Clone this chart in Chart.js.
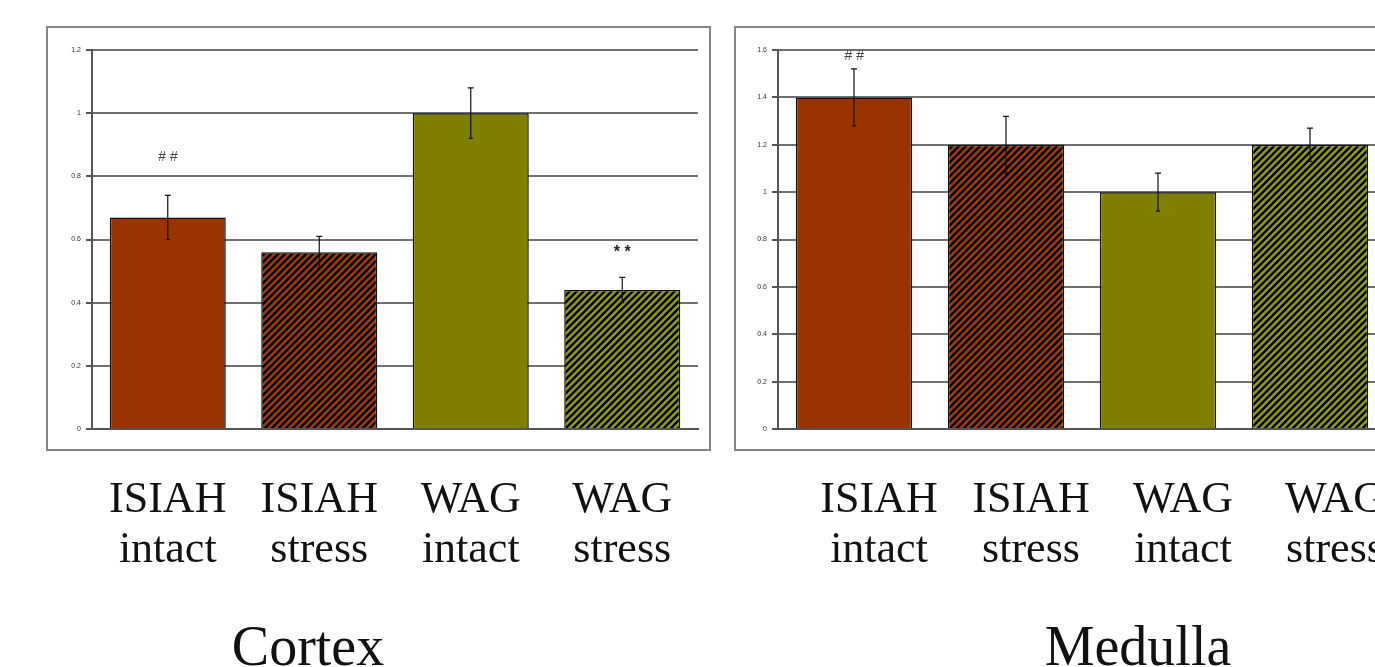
<!DOCTYPE html>
<html><head><meta charset="utf-8">
<script src="https://cdn.jsdelivr.net/npm/chart.js@4.4.1/dist/chart.umd.min.js"></script>
<style>
html,body{margin:0;padding:0;background:#fff;width:1375px;height:667px;overflow:hidden;position:relative;}
.wrap{position:absolute;top:0;height:600px;}
.ttl{position:absolute;top:618px;width:400px;text-align:center;font-family:'Liberation Serif','Times New Roman',serif;font-size:56px;line-height:56px;color:#111;}
</style></head><body>
<div class="wrap" style="left:0;width:720px"><canvas id="c1" width="720" height="600"></canvas></div>
<div class="wrap" style="left:720px;width:720px"><canvas id="c2" width="720" height="600"></canvas></div>
<div class="ttl" style="left:108px">Cortex</div>
<div class="ttl" style="left:938px">Medulla</div>
<script>
// ---- data ----
const categories = [['ISIAH','intact'],['ISIAH','stress'],['WAG','intact'],['WAG','stress']];
const cortexValues = [0.67, 0.56, 1.00, 0.44];
const cortexErrors = [0.07, 0.05, 0.08, 0.04];
const cortexSig = ['##', '', '', '**'];
const cortexSigAt = [0.86, null, null, 0.56];
const medullaValues = [1.40, 1.20, 1.00, 1.20];
const medullaErrors = [0.12, 0.12, 0.08, 0.07];
const medullaSig = ['##', '', '', ''];
const medullaSigAt = [1.575, null, null, null];
const cortexMax = 1.2;
const medullaMax = 1.6;
const tickStep = 0.2;

// ---- styling ----
const RED = '#993300', OLIVE = '#808000';
function hatch(color){
  const s=7;
  const c=document.createElement('canvas'); c.width=s; c.height=s;
  const x=c.getContext('2d'); x.fillStyle=color; x.fillRect(0,0,s,s);
  x.strokeStyle='#000'; x.lineWidth=2.4; x.beginPath();
  x.moveTo(-1,s+1); x.lineTo(s+1,-1);
  x.moveTo(-1,1); x.lineTo(1,-1);
  x.moveTo(s-1,s+1); x.lineTo(s+1,s-1);
  x.stroke();
  return x.createPattern(c,'repeat');
}
const fills = [RED, hatch('#a03a0c'), OLIVE, hatch('#8e9a1c')];

function extrasPlugin(errors, sigText, sigAt, box){
  return {
    id:'extras',
    beforeDraw(chart){
      const a=chart.chartArea, ctx=chart.ctx;
      ctx.save(); ctx.strokeStyle='#858585'; ctx.lineWidth=2;
      ctx.strokeRect(a.left-box[0], a.top-box[1], (a.right+box[2])-(a.left-box[0]), (a.bottom+box[3])-(a.top-box[1]));
      ctx.restore();
    },
    afterDatasetsDraw(chart){
      const ctx=chart.ctx, meta=chart.getDatasetMeta(0), y=chart.scales.y, vals=chart.data.datasets[0].data;
      ctx.save(); ctx.strokeStyle='#111'; ctx.lineWidth=1.2;
      meta.data.forEach((bar,i)=>{
        const x=bar.x, t=y.getPixelForValue(vals[i]+errors[i]), b=y.getPixelForValue(vals[i]-errors[i]);
        ctx.beginPath();
        ctx.moveTo(x,t); ctx.lineTo(x,b);
        ctx.moveTo(x-3,t); ctx.lineTo(x+3,t);
        ctx.moveTo(x-2,b); ctx.lineTo(x+2,b);
        ctx.stroke();
        if(sigText[i]){
          ctx.fillStyle = sigText[i]==='**' ? '#222' : '#444';
          ctx.textAlign='center'; ctx.textBaseline='middle';
          ctx.font = sigText[i]==='**' ? 'bold 16px "Liberation Sans"' : 'italic 14px "Liberation Sans"';
          ctx.fillText(sigText[i].split('').join(' '), x, y.getPixelForValue(sigAt[i]));
        }
      });
      ctx.restore();
    }
  };
}

function makeChart(id, values, errors, sigText, sigAt, maxV, yWidth, padRight, labelOffset, box){
  return new Chart(document.getElementById(id), {
    type:'bar',
    data:{ labels:categories, datasets:[{ data:values, backgroundColor:fills, borderColor:'#111', borderWidth:1.5, categoryPercentage:1, barPercentage:0.766 }]},
    options:{
      responsive:false, animation:false,
      layout:{ padding:{ left:0, top:50, right:padRight, bottom:0 } },
      plugins:{ legend:{display:false}, tooltip:{enabled:false}, title:{display:false} },
      scales:{
        x:{
          grid:{ display:false, drawTicks:false },
          border:{ display:true, color:'#555', width:2 },
          ticks:{ autoSkip:false, maxRotation:0, minRotation:0, padding:46, labelOffset:labelOffset, color:'#111',
                  font:{ family:'"Liberation Serif","Times New Roman",serif', size:44, lineHeight:50/44 } },
          afterFit(s){ s.height = 171; s.paddingLeft=0; s.paddingRight=0; s.paddingTop=0; s.paddingBottom=0; }
        },
        y:{
          min:0, max:maxV,
          grid:{ color:'#707070', lineWidth:2, tickLength:6, tickColor:'#555' },
          border:{ display:true, color:'#555', width:2 },
          ticks:{ stepSize:tickStep, padding:5, color:'#333', font:{ family:'"Liberation Sans",Arial,sans-serif', size:7 },
                  callback:(v)=>String(Number(v.toFixed(1))) },
          afterFit(s){ s.width = yWidth; s.paddingTop=0; s.paddingBottom=0; s.paddingLeft=0; s.paddingRight=0; }
        }
      }
    },
    plugins:[ extrasPlugin(errors, sigText, sigAt, box) ]
  });
}

makeChart('c1', cortexValues, cortexErrors, cortexSig, cortexSigAt, cortexMax, 92, 22, 0, [45,23,12,21]);
makeChart('c2', medullaValues, medullaErrors, medullaSig, medullaSigAt, medullaMax, 58, 54, 25, [43,23,12,21]);
</script>
</body></html>
